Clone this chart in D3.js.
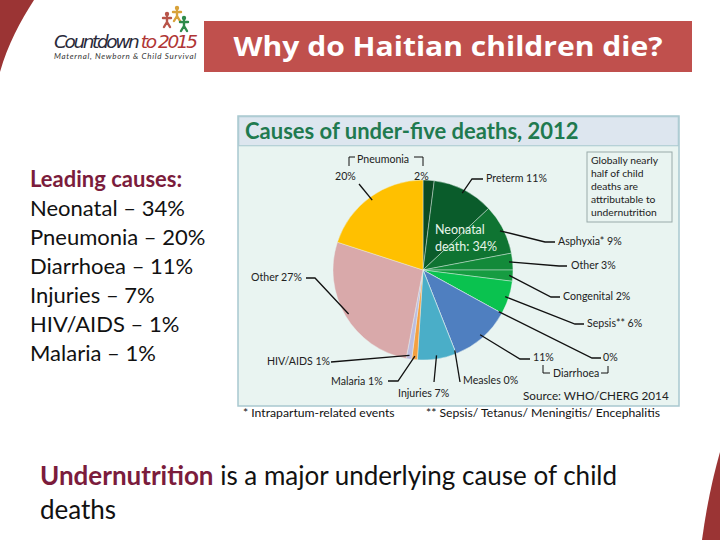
<!DOCTYPE html>
<html>
<head>
<meta charset="utf-8">
<script src="https://cdn.jsdelivr.net/npm/d3@7"></script>
<style>
  body { margin: 0; background: #fff; }
  svg { display: block; font-family: Lato, "Open Sans", sans-serif; }
</style>
</head>
<body>
<svg id="slide" width="720" height="540"></svg>
<script>
// slices, clockwise from 12 o'clock
const causes = ["Pneumonia (neonatal)", "Preterm", "Asphyxia*", "Other (neonatal)", "Congenital", "Sepsis**",
                "Diarrhoea (neonatal)", "Diarrhoea", "Measles", "Injuries", "Malaria", "HIV/AIDS", "Other", "Pneumonia"];
const shares = [2, 11, 9, 3, 2, 6, 0, 11, 0, 7, 1, 1, 27, 20];
const sliceColors = ["#0b4a23", "#0a5c2b", "#0f7432", "#138a3a", "#169c41", "#0ac24f",
                     "#169c41", "#4f7fc0", "#4f7fc0", "#4aaec8", "#f4a040", "#bcbde0", "#d9a9aa", "#ffc000"];
const leadingCauses = ["Neonatal – 34%", "Pneumonia – 20%", "Diarrhoea – 11%", "Injuries – 7%", "HIV/AIDS – 1%", "Malaria – 1%"];

const svg = d3.select("#slide");

// slide decoration
svg.append("path").attr("fill", "#9b3434")
  .attr("d", "M0,0 L34,0 C20,22 8,44 0,72 Z");
svg.append("path").attr("fill", "#9b3434")
  .attr("d", "M720,452 C712,480 706,510 702,540 L720,540 Z");

// logo
const logo = svg.append("g");
logo.append("text").attr("x", 54).attr("y", 48).attr("font-size", 18.5).attr("font-style", "italic")
  .attr("fill", "#2a2a3a").attr("font-family", "'DejaVu Sans', sans-serif").attr("textLength", 144)
  .text("Countdown ").append("tspan").attr("fill", "#b03535").text("to 2015");
logo.append("text").attr("x", 54).attr("y", 59).attr("font-size", 8).attr("font-style", "italic")
  .attr("fill", "#333").attr("textLength", 142).text("Maternal, Newborn & Child Survival");
[["#b8554a", 167, 18], ["#d8a23a", 177, 12], ["#2e8a4a", 184, 22]].forEach(([c, x, y]) => {
  logo.append("circle").attr("cx", x).attr("cy", y - 4).attr("r", 2.2).attr("fill", c);
  logo.append("path").attr("fill", "none").attr("stroke", c).attr("stroke-width", 2.4).attr("stroke-linecap", "round")
    .attr("d", `M${x - 4},${y} L${x + 4},${y} M${x},${y - 1} L${x},${y + 4} M${x},${y + 4} L${x - 3},${y + 9} M${x},${y + 4} L${x + 3},${y + 9}`);
});

// title banner
svg.append("rect").attr("x", 204).attr("y", 21).attr("width", 488).attr("height", 51).attr("fill", "#c0504d");
svg.append("text").attr("x", 448).attr("y", 56).attr("text-anchor", "middle").attr("fill", "#fff")
  .attr("font-family", "'Open Sans', sans-serif").attr("font-size", 26).attr("font-weight", "bold")
  .attr("textLength", 429).attr("lengthAdjust", "spacingAndGlyphs").text("Why do Haitian children die?");

// left list
const list = svg.append("g").attr("font-size", 22);
list.append("text").attr("x", 30).attr("y", 187).attr("fill", "#7b1c3c").attr("font-weight", "bold").text("Leading causes:");
list.selectAll("text.item").data(leadingCauses).join("text").attr("class", "item")
  .attr("x", 30).attr("y", (d, i) => 216 + i * 29).attr("fill", "#111").text(d => d);

// bottom text
const bottom = svg.append("text").attr("x", 40).attr("y", 485).attr("font-size", 26).attr("fill", "#111");
bottom.append("tspan").attr("fill", "#7b1c3c").attr("font-weight", "bold").text("Undernutrition");
bottom.append("tspan").text(" is a major underlying cause of child");
svg.append("text").attr("x", 40).attr("y", 519).attr("font-size", 26).attr("fill", "#111").text("deaths");

// chart panel
const panel = svg.append("g");
panel.append("rect").attr("x", 238).attr("y", 116).attr("width", 441).attr("height", 290)
  .attr("fill", "#e9f4f1").attr("stroke", "#a8c8cf").attr("stroke-width", 1.5);
panel.append("rect").attr("x", 238.75).attr("y", 116.75).attr("width", 439.5).attr("height", 29)
  .attr("fill", "#dde6ef").attr("stroke", "#a8c8cf").attr("stroke-width", 1);
panel.append("text").attr("x", 245).attr("y", 139).attr("font-size", 22).attr("font-weight", "bold")
  .attr("fill", "#1f7a4f").text("Causes of under-five deaths, 2012");

const cx = 423, cy = 270, r = 90;
const pie = d3.pie().sort(null).value(d => d)(shares);
const arc = d3.arc().innerRadius(0).outerRadius(r);
const edge = d3.arc().innerRadius(r * 0.96).outerRadius(r * 0.96);
const pieG = panel.append("g").attr("transform", `translate(${cx},${cy})`);
pieG.selectAll("path").data(pie).join("path")
  .attr("d", arc).attr("fill", (d, i) => sliceColors[i])
  .attr("stroke", "#e9f4f1").attr("stroke-width", 0.6).attr("stroke-opacity", 0.7);

// labels: [slice index, text, text x, baseline y, anchor, elbow points]
const labelLayout = [
  [0, "2%", 414, 180, "start", null],
  [1, "Preterm 11%", 486, 182, "start", [[472, 179], [483, 179]]],
  [2, "Asphyxia* 9%", 558, 245, "start", [[545, 242], [555, 242]]],
  [3, "Other 3%", 571, 269, "start", [[559, 266], [567, 266]]],
  [4, "Congenital 2%", 563, 300, "start", [[551, 297], [560, 297]]],
  [5, "Sepsis** 6%", 587, 327, "start", [[575, 324], [584, 324]]],
  [6, "0%", 603, 361, "start", [[592, 358], [601, 358]]],
  [7, "11%", 533, 361, "start", [[520, 359], [530, 359]]],
  [8, "Measles 0%", 463, 384, "start", [[460, 382]]],
  [9, "Injuries 7%", 398, 397, "start", [[434, 382]]],
  [10, "Malaria 1%", 331, 385, "start", [[398, 381], [388, 381]]],
  [11, "HIV/AIDS 1%", 267, 365, "start", [[331, 362]]],
  [12, "Other 27%", 251, 281, "start", [[315, 278], [306, 278]]],
  [13, "20%", 335, 180, "start", [[359, 184]]]
];
const labels = panel.append("g").attr("font-size", 10.6).attr("fill", "#222");
labelLayout.forEach(([i, txt, x, y, anchor, pts]) => {
  labels.append("text").attr("x", x).attr("y", y).attr("text-anchor", anchor).text(txt);
  if (!pts) return;
  const [sx, sy] = edge.centroid(pie[i]);
  const line = d3.line()([[cx + sx, cy + sy], ...pts]);
  labels.append("path").attr("d", line).attr("fill", "none").attr("stroke", "#111").attr("stroke-width", 1.3);
});

// brackets
labels.append("text").attr("x", 357).attr("y", 163).text("Pneumonia");
labels.append("path").attr("fill", "none").attr("stroke", "#111").attr("stroke-width", 1)
  .attr("d", "M349,166 L349,157 L355,157 M414,157 L423,157 L423,166");
labels.append("text").attr("x", 553).attr("y", 377).text("Diarrhoea");
labels.append("path").attr("fill", "none").attr("stroke", "#111").attr("stroke-width", 1)
  .attr("d", "M543,365 L543,373 L550,373 M601,373 L608,373 L608,366");

// inner label
pieG.append("text").attr("x", 12).attr("y", -36).attr("font-size", 12.5).attr("fill", "#e8f5ea").text("Neonatal");
pieG.append("text").attr("x", 12).attr("y", -19).attr("font-size", 12.5).attr("fill", "#e8f5ea").text("death: 34%");

// note box
panel.append("rect").attr("x", 587).attr("y", 152).attr("width", 85).attr("height", 70)
  .attr("fill", "#e9f4f1").attr("stroke", "#9aa").attr("stroke-width", 1);
panel.append("g").attr("font-size", 10.3).attr("fill", "#222")
  .selectAll("text").data(["Globally nearly", "half of child", "deaths are", "attributable to", "undernutrition"])
  .join("text").attr("x", 591).attr("y", (d, i) => 164 + i * 13).text(d => d);

panel.append("text").attr("x", 523).attr("y", 400).attr("font-size", 11.7).attr("fill", "#222").text("Source: WHO/CHERG 2014");

// footnotes
svg.append("text").attr("x", 243).attr("y", 417).attr("font-size", 12.2).attr("fill", "#111").text("* Intrapartum-related events");
svg.append("text").attr("x", 426).attr("y", 417).attr("font-size", 12.2).attr("fill", "#111").text("** Sepsis/ Tetanus/ Meningitis/ Encephalitis");
</script>
</body>
</html>
